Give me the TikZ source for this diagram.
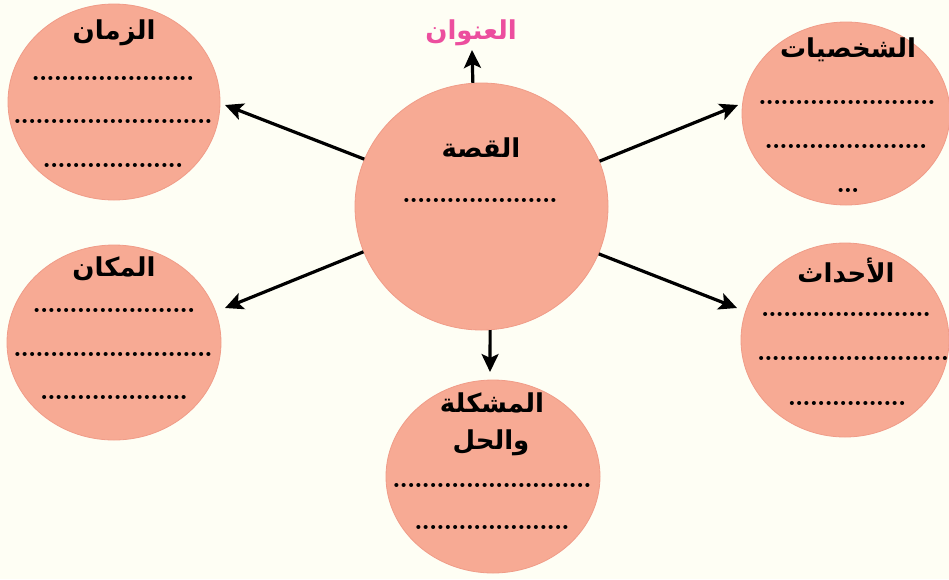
\documentclass[tikz,border=0pt]{standalone}
\usepackage{fontspec}
\usetikzlibrary{shapes.geometric,arrows.meta}
\TeXXeTstate=1
\newfontfamily\arabicfont[Script=Arabic]{DejaVu Sans}
\definecolor{bgcol}{HTML}{FEFEF4}
\definecolor{disccol}{HTML}{F7AA94}
\definecolor{disclinecol}{HTML}{F09C88}
\definecolor{titlepink}{HTML}{EC4E9E}
\newcommand\artxt[1]{\arabicfont\bfseries\beginR #1\endR}
\newcommand\dotrow[1]{\foreach \i in {1,...,#1}{\makebox[7.35pt]{.}}}
\begin{document}
\begin{tikzpicture}[x=1pt,y=-1pt,
  disc/.style={ellipse, fill=disccol, draw=disclinecol, line width=0.8pt, inner sep=0pt},
  head/.style={font=\fontsize{26}{31}\selectfont, inner sep=0pt},
  dotrowsty/.style={font=\fontsize{28}{28}\bfseries\selectfont, inner sep=0pt},
  arr/.style={line width=3.2pt, -{Stealth[length=18pt,width=17pt,inset=4pt]}}]
\fill[bgcol] (0,0) rectangle (949,579);
\useasboundingbox (0,0) rectangle (949,579);

% discs
\node[disc, minimum width=253pt, minimum height=247pt] (c) at (481.5,206.5) {};
\node[disc, minimum width=212pt, minimum height=196pt] (tl) at (114,102) {};
\node[disc, minimum width=214pt, minimum height=195pt] (lm) at (114,342.5) {};
\node[disc, minimum width=208pt, minimum height=183pt] (tr) at (846,113.5) {};
\node[disc, minimum width=208pt, minimum height=194pt] (rm) at (845,340) {};
\node[disc, minimum width=214pt, minimum height=193pt] (bm) at (493,476.5) {};

% title
\node[head, text=titlepink] (title) at (471,33) {\artxt{العنوان}};

% centre
\node[head] (ch) at (481,148) {\artxt{القصة}};
\node[dotrowsty] (c1) at (480,200) {\dotrow{21}};

% top left
\node[head] (tlh) at (114,33) {\artxt{الزمان}};
\node[dotrowsty] (tl1) at (113,78) {\dotrow{22}};
\node[dotrowsty] (tl2) at (113,121) {\dotrow{27}};
\node[dotrowsty] (tl3) at (113,165) {\dotrow{19}};

% left middle
\node[head] (lmh) at (114,269) {\artxt{المكان}};
\node[dotrowsty] (lm1) at (114,310) {\dotrow{22}};
\node[dotrowsty] (lm2) at (113,354) {\dotrow{27}};
\node[dotrowsty] (lm3) at (114,397) {\dotrow{20}};

% top right
\node[head] (trh) at (848,50) {\artxt{الشخصيات}};
\node[dotrowsty] (tr1) at (847,102) {\dotrow{24}};
\node[dotrowsty] (tr2) at (846,146) {\dotrow{22}};
\node[dotrowsty] (tr3) at (848,190) {\dotrow{3}};

% right middle
\node[head] (rmh) at (846,271) {\artxt{الأحداث}};
\node[dotrowsty] (rm1) at (846,314) {\dotrow{23}};
\node[dotrowsty] (rm2) at (853,358) {\dotrow{26}};
\node[dotrowsty] (rm3) at (847,403) {\dotrow{16}};

% bottom
\node[head] (bmh1) at (492,403) {\artxt{المشكلة}};
\node[head] (bmh2) at (491,443) {\artxt{والحل}};
\node[dotrowsty] (bm1) at (492,485) {\dotrow{27}};
\node[dotrowsty] (bm2) at (492,527) {\dotrow{21}};

% arrow ends
\coordinate (etitle) at (472,50);
\coordinate (etl) at (225,105);
\coordinate (etr) at (738,105);
\coordinate (elm) at (225,308);
\coordinate (erm) at (737,308);
\coordinate (ebm) at (490,372);

\draw[arr] (c.94.4) -- (etitle);
\draw[arr] (c.158.6) -- (etl);
\draw[arr] (c.21.4) -- (etr);
\draw[arr] (c.201.8) -- (elm);
\draw[arr] (c.338.1) -- (erm);
\draw[arr] (c.274) -- (ebm);
\end{tikzpicture}
\end{document}
